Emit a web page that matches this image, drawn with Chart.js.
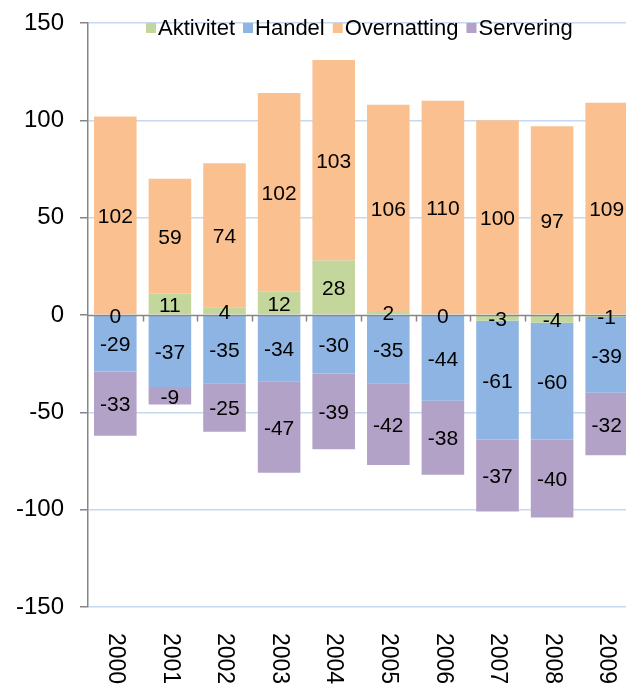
<!DOCTYPE html>
<html>
<head>
<meta charset="utf-8">
<script src="https://cdn.jsdelivr.net/npm/chart.js@4.4.1/dist/chart.umd.min.js"></script>
<style>
  html, body { margin: 0; padding: 0; background: #fff; overflow: hidden; }
  #wrap { width: 634px; height: 684px; }
</style>
</head>
<body>
<div id="wrap"><canvas id="chart"></canvas></div>
<script>
const years = ['2000', '2001', '2002', '2003', '2004', '2005', '2006', '2007', '2008', '2009'];
const aktivitet = [0, 11, 4, 12, 28, 2, 0, -3, -4, -1];
const handel = [-29, -37, -35, -34, -30, -35, -44, -61, -60, -39];
const overnatting = [102, 59, 74, 102, 103, 106, 110, 100, 97, 109];
const servering = [-33, -9, -25, -47, -39, -42, -38, -37, -40, -32];
const yMin = -150, yMax = 150, yStep = 50;

const FONT = "'Liberation Sans', Arial, sans-serif";
const axisGray = '#868686';
const gridBlue = '#c6d9f1';

// zero axis, value labels, rotated year labels and the legend
const overlayPlugin = {
    id: 'overlay',
    afterDatasetsDraw(chart) {
        const ctx = chart.ctx;
        const area = chart.chartArea;
        const xs = chart.scales.x, ys = chart.scales.y;
        const y0 = Math.round(ys.getPixelForValue(0)) + 0.5;
        ctx.save();

        ctx.strokeStyle = axisGray;
        ctx.lineWidth = 1.5;
        ctx.beginPath();
        ctx.moveTo(area.left, y0);
        ctx.lineTo(area.right, y0);
        for (let i = 1; i < years.length; i++) {
            const bx = Math.round((xs.getPixelForValue(i - 1) + xs.getPixelForValue(i)) / 2) + 0.5;
            ctx.moveTo(bx, y0);
            ctx.lineTo(bx, y0 + 6);
        }
        ctx.stroke();

        ctx.fillStyle = '#000';
        ctx.font = '21px ' + FONT;
        ctx.textAlign = 'center';
        ctx.textBaseline = 'middle';
        chart.data.datasets.forEach((ds, di) => {
            chart.getDatasetMeta(di).data.forEach((bar, i) => {
                const p = bar.getProps(['x', 'y', 'base'], true);
                ctx.fillText(String(ds.data[i]), p.x, (p.y + p.base) / 2 + 2);
            });
        });

        ctx.font = '23px ' + FONT;
        ctx.textAlign = 'left';
        years.forEach((yr, i) => {
            ctx.save();
            ctx.translate(xs.getPixelForValue(i), area.bottom + 26);
            ctx.rotate(Math.PI / 2);
            ctx.fillText(yr, 0, 0);
            ctx.restore();
        });

        ctx.font = '22px ' + FONT;
        let lx = 146;
        const ly = 28;
        chart.data.datasets.forEach(ds => {
            ctx.fillStyle = ds.backgroundColor;
            ctx.fillRect(lx, ly - 5, 10, 10);
            ctx.fillStyle = '#000';
            ctx.fillText(ds.label, lx + 12, ly + 1);
            lx += 12 + ctx.measureText(ds.label).width + 8;
        });
        ctx.restore();
    }
};

new Chart(document.getElementById('chart'), {
    type: 'bar',
    data: {
        labels: years,
        datasets: [
            { label: 'Aktivitet', data: aktivitet, backgroundColor: '#c3d69b' },
            { label: 'Handel', data: handel, backgroundColor: '#8eb4e3' },
            { label: 'Overnatting', data: overnatting, backgroundColor: '#fac090' },
            { label: 'Servering', data: servering, backgroundColor: '#b3a2c7' }
        ]
    },
    options: {
        responsive: true,
        maintainAspectRatio: false,
        animation: false,
        layout: { padding: { top: 23, bottom: 77, left: 0, right: 0 } },
        datasets: { bar: { barPercentage: 0.78, categoryPercentage: 1, borderWidth: 0 } },
        plugins: { legend: { display: false }, tooltip: { enabled: false } },
        scales: {
            x: {
                stacked: true,
                grid: { display: false },
                border: { display: false },
                ticks: { display: false },
                afterFit: s => { s.height = 0; }
            },
            y: {
                stacked: true,
                min: yMin,
                max: yMax,
                afterFit: s => { s.width = 88; s.paddingTop = 0; s.paddingBottom = 0; },
                ticks: {
                    stepSize: yStep,
                    padding: 16,
                    color: '#000',
                    font: { family: FONT, size: 24 }
                },
                grid: {
                    color: ctx => ctx.tick && ctx.tick.value === 0 ? 'rgba(0,0,0,0)' : gridBlue,
                    lineWidth: 1.5,
                    tickLength: 8,
                    tickColor: axisGray
                },
                border: { color: axisGray, width: 1.5 }
            }
        }
    },
    plugins: [overlayPlugin]
});
</script>
</body>
</html>
